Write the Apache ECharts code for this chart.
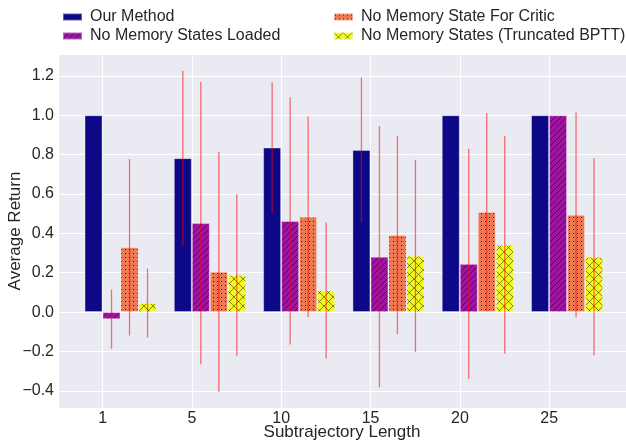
<!DOCTYPE html>
<html>
<head>
<meta charset="utf-8">
<script src="https://cdn.jsdelivr.net/npm/echarts@6/dist/echarts.min.js"></script>
<style>html,body{margin:0;padding:0;background:#fff}#c{width:626px;height:442px}</style>
</head>
<body>
<div id="c"></div>
<script>
// ---- data ----
const categories = ['1', '5', '10', '15', '20', '25'];
const seriesNames = ['Our Method', 'No Memory States Loaded', 'No Memory State For Critic', 'No Memory States (Truncated BPTT)'];
const ourMethod      = [1.000, 0.782, 0.836, 0.824, 1.000, 1.000];
const ourMethodStd   = [0.000, 0.444, 0.331, 0.367, 0.000, 0.000];
const noMemLoaded    = [-0.036, 0.452, 0.463, 0.281, 0.245, 1.000];
const noMemLoadedStd = [0.150, 0.717, 0.628, 0.663, 0.585, 0.000];
const noMemCritic    = [0.329, 0.205, 0.484, 0.392, 0.508, 0.494];
const noMemCriticStd = [0.448, 0.610, 0.509, 0.504, 0.503, 0.520];
const truncBPTT      = [0.046, 0.189, 0.110, 0.286, 0.342, 0.281];
const truncBPTTStd   = [0.175, 0.410, 0.345, 0.487, 0.553, 0.500];
const yTicks = [-0.4, -0.2, 0.0, 0.2, 0.4, 0.6, 0.8, 1.0, 1.2];

const means = [ourMethod, noMemLoaded, noMemCritic, truncBPTT];
const stds = [ourMethodStd, noMemLoadedStd, noMemCriticStd, truncBPTTStd];

// ---- styling ----
const BAR_W = 18;
const GROUP_SHIFT = 0.2; // group centre offset from the tick (matplotlib edge-aligned bars)

function makePattern(bg, size, draw) {
  const c = document.createElement('canvas');
  c.width = size; c.height = size;
  const ctx = c.getContext('2d');
  ctx.fillStyle = bg; ctx.fillRect(0, 0, size, size);
  draw(ctx, size);
  return { image: c, repeat: 'repeat' };
}
function diag(ctx, s, dir) {
  ctx.beginPath();
  if (dir > 0) {
    ctx.moveTo(-1, s + 1); ctx.lineTo(s + 1, -1);
    ctx.moveTo(-1, 1); ctx.lineTo(1, -1);
    ctx.moveTo(s - 1, s + 1); ctx.lineTo(s + 1, s - 1);
  } else {
    ctx.moveTo(-1, -1); ctx.lineTo(s + 1, s + 1);
    ctx.moveTo(s - 1, -1); ctx.lineTo(s + 1, 1);
    ctx.moveTo(-1, s - 1); ctx.lineTo(1, s + 1);
  }
  ctx.stroke();
}
const fills = [
  '#0d0887',
  makePattern('#9c179e', 6, (ctx, s) => { ctx.strokeStyle = 'rgba(20,0,40,0.6)'; ctx.lineWidth = 0.9; diag(ctx, s, 1); }),
  makePattern('#ed7953', 4, (ctx, s) => { ctx.fillStyle = 'rgba(0,0,0,0.85)'; ctx.fillRect(1, 1, 1, 1); }),
  makePattern('#f0f921', 9, (ctx, s) => { ctx.strokeStyle = 'rgba(40,40,0,0.6)'; ctx.lineWidth = 0.9; diag(ctx, s, 1); diag(ctx, s, -1); })
];

const fmt = v => String(v).replace('-', '\u2212');

const barSeries = seriesNames.map((name, k) => ({
  name: name,
  type: 'bar',
  barWidth: BAR_W,
  barGap: '0%',
  itemStyle: { color: fills[k], borderColor: 'rgba(255,255,255,0.35)', borderWidth: 1 },
  data: means[k].map((v, i) => [i + GROUP_SHIFT, v]),
  z: 2
}));

const errData = [];
means.forEach((arr, k) => arr.forEach((v, i) => errData.push([i + GROUP_SHIFT, v, stds[k][i], k])));

const errSeries = {
  name: 'err',
  type: 'custom',
  z: 5,
  silent: true,
  data: errData,
  encode: { x: 0, y: 1 },
  renderItem: function (params, api) {
    const x = api.value(0), m = api.value(1), s = api.value(2), k = api.value(3);
    if (!(s > 0)) return;
    const top = api.coord([x, m + s]);
    const bot = api.coord([x, m - s]);
    const px = top[0] + (k - 1.5) * BAR_W;
    return {
      type: 'line',
      shape: { x1: px, y1: top[1], x2: px, y2: bot[1] },
      style: { stroke: 'rgba(255,0,0,0.55)', lineWidth: 1.3 }
    };
  }
};

const legendText = { fontFamily: 'Liberation Sans', fontSize: 16, color: '#262626', lineHeight: 16, padding: [0, 0, 0, 3] };

const chart = echarts.init(document.getElementById('c'), null, { renderer: 'canvas' });
chart.setOption({
  animation: false,
  backgroundColor: '#ffffff',
  textStyle: { fontFamily: 'Liberation Sans' },
  legend: [
    { data: seriesNames.slice(0, 2), orient: 'vertical', left: 62, top: 9, padding: 0, itemGap: 3,
      itemWidth: 19, itemHeight: 7, icon: 'rect', textStyle: legendText, selectedMode: false },
    { data: seriesNames.slice(2, 4), orient: 'vertical', left: 333, top: 9, padding: 0, itemGap: 3,
      itemWidth: 19, itemHeight: 7, icon: 'rect', textStyle: legendText, selectedMode: false }
  ],
  grid: { left: 58, right: 0, top: 54, bottom: 34, show: true, backgroundColor: '#EAEAF2', borderWidth: 0,
          outerBoundsMode: 'none', containLabel: false },
  xAxis: {
    type: 'value',
    min: -0.5, max: 5.86,
    splitNumber: 6,
    name: 'Subtrajectory Length',
    nameLocation: 'middle',
    nameGap: 16,
    nameMoveOverlap: false,
    nameTextStyle: { fontFamily: 'Liberation Sans', fontSize: 17, color: '#262626' },
    axisLine: { show: false }, axisTick: { show: false },
    axisLabel: {
      fontFamily: 'Liberation Sans', fontSize: 16, color: '#262626', margin: 3,
      showMinLabel: false, showMaxLabel: false,
      formatter: v => (Number.isInteger(v) && categories[v] !== undefined) ? categories[v] : ''
    },
    splitLine: { show: true, lineStyle: { color: '#ffffff', width: 1 } }
  },
  yAxis: {
    type: 'value',
    min: -0.487, max: 1.311,
    splitNumber: 9,
    name: 'Average Return',
    nameLocation: 'middle',
    nameGap: 34,
    nameMoveOverlap: false,
    nameTextStyle: { fontFamily: 'Liberation Sans', fontSize: 17, color: '#262626' },
    axisLine: { show: false }, axisTick: { show: false },
    axisLabel: {
      fontFamily: 'Liberation Sans', fontSize: 16, color: '#262626', margin: 4,
      showMinLabel: false, showMaxLabel: false,
      formatter: v => {
        const t = yTicks.find(y => Math.abs(y - v) < 1e-6);
        return t === undefined ? '' : fmt(t.toFixed(1));
      }
    },
    splitLine: { show: true, lineStyle: { color: '#ffffff', width: 1 } }
  },
  series: barSeries.concat([errSeries])
});
</script>
</body>
</html>
